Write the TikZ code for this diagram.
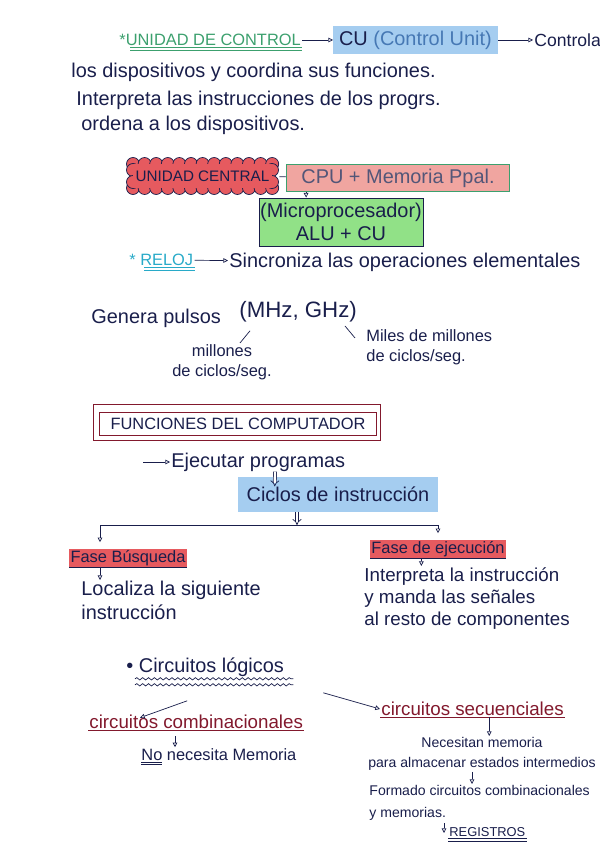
\documentclass[tikz,border=0pt]{standalone}
\usepackage{fontspec}
\setmainfont{Liberation Sans}
\usepackage{tikz}
\usepackage{xcolor}
\usetikzlibrary{arrows.meta,positioning,calc,decorations.pathmorphing}
\definecolor{notesink}{RGB}{25,30,75}
\definecolor{notesgreen}{RGB}{60,160,110}
\definecolor{notescyan}{RGB}{40,170,200}
\definecolor{notesred}{RGB}{130,25,45}
\definecolor{cublue}{RGB}{70,120,180}
\definecolor{hlblue}{RGB}{165,205,240}
\definecolor{hlred}{RGB}{230,90,95}
\definecolor{hlpink}{RGB}{240,165,160}
\definecolor{hlgreen}{RGB}{145,225,135}

\begin{document}
\begin{tikzpicture}[x=0.03cm, y=-0.03cm, >={Triangle[open,length=4pt,width=4pt]},
  every node/.style={text=notesink, inner sep=1pt},
  bodyfont/.style={font=\fontsize{17}{20}\selectfont},
  handtext/.style={anchor=west, bodyfont},
  smalltext/.style={font=\fontsize{14}{17}\selectfont},
  capstext/.style={font=\fontsize{14}{16}\selectfont},
  pen/.style={draw=notesink, line width=0.6pt},
  twin/.style={double, double distance=1.8pt, line width=0.6pt},
  markblue/.style={fill=hlblue},
  markred/.style={fill=hlred}]
\useasboundingbox (0,0) rectangle (600,848);

% unidad de control
\node[handtext, capstext, text=notesgreen] (uc) at (118,40) {*UNIDAD DE CONTROL};
\node[handtext, markblue, minimum height=0.85cm, inner xsep=5pt] (cu) at (333,40) {CU {\color{cublue}(Control Unit)}};
\node[handtext, font=\fontsize{15}{18}\selectfont] (ctrl) at (533,40) {Controla};
\draw[pen,->] (uc) -- (cu);
\draw[pen,->] (cu) -- (ctrl);
\draw[notesgreen, twin] ($(uc.south west)+(12,2)$) -- ($(uc.south east)+(0,2)$);
\node[handtext] (l1) at (70,72) {los dispositivos y coordina sus funciones.};
\node[handtext] (l2) at (75,100) {Interpreta las instrucciones de los progrs.};
\node[handtext] (l3) at (80,125) {ordena a los dispositivos.};

% unidad central (nube)
\foreach \px in {133,144.6,...,273} {
  \draw[pen, fill=hlred] (\px,164) circle (6.5);
  \draw[pen, fill=hlred] (\px,188) circle (6.5);
}
\foreach \py in {170,182} {
  \draw[pen, fill=hlred] (133,\py) circle (6.5);
  \draw[pen, fill=hlred] (272,\py) circle (6.5);
}
\fill[hlred] (133,164) rectangle (272,188);
\node[minimum width=4.6cm, minimum height=0.8cm, font=\fontsize{13}{15}\selectfont] (ucen) at (202.5,176) {UNIDAD CENTRAL};
\node[draw=notesgreen, fill=hlpink, minimum width=6.7cm, minimum height=0.8cm, bodyfont, text=notesink!75] (cpu) at (398,178) {CPU + Memoria Ppal.};
\draw[pen] (ucen) -- (cpu);
\node[draw=notesink, fill=hlgreen, minimum width=4.4cm, minimum height=1.45cm, align=center, bodyfont] (micro) at (341,222) {(Microprocesador)\\ALU + CU};
\draw[pen,->] ([xshift=0.6cm]cpu.south west) -- ([xshift=0.6cm]cpu.south west |- micro.north);

% reloj
\node[handtext, capstext, text=notescyan] (rel) at (128,260) {* RELOJ};
\node[handtext] (sinc) at (228,262) {Sincroniza las operaciones elementales};
\draw[pen,->] (rel) -- (sinc);
\draw[notescyan, twin] ($(rel.south west)+(16,2)$) -- ($(rel.south east)+(0,2)$);
\node[handtext] (gp) at (90,318) {Genera pulsos};
\node[handtext, font=\fontsize{19}{22}\selectfont] (freq) at (238,312) {(MHz, GHz)};
\node[smalltext, align=center] (mill) at (222,362) {millones\\de ciclos/seg.};
\node[handtext, smalltext, align=left] (miles) at (365,347) {Miles de millones\\de ciclos/seg.};
\draw[pen] ($(freq.south west)+(12,7)$) -- ($(mill.north)+(18,0)$);
\draw[pen] ($(miles.north west)+(-20,-2)$) -- ($(miles.north west)+(-10,10)$);

% funciones del computador
\node[draw=notesred, line width=0.8pt, minimum width=8.3cm, minimum height=0.7cm, font=\fontsize{14}{17}\selectfont] (func) at (238,424) {FUNCIONES DEL COMPUTADOR};
\draw[notesred, line width=0.8pt] ($(func.north west)+(-6,-7)$) rectangle ($(func.south east)+(4,4)$);
\node[handtext] (ej) at (170,462) {Ejecutar programas};
\coordinate (ejtail) at (143,462);
\draw[pen,->] (ejtail) -- (ej);
\node[markblue, bodyfont, minimum width=6cm, minimum height=1.05cm] (ciclo) at (338,494) {Ciclos de instrucción};
\draw[pen, double, double distance=2pt, -Implies] ($(ej.south west)+(105,-1)$) -- ($(ciclo.north west)+(37,10)$);
\coordinate (split) at (297,525);
\draw[pen, double, double distance=2pt, -Implies] (ciclo.south -| split) -- (split);
\node[markred, font=\fontsize{14}{17}\selectfont] (fb) at (128,558) {Fase Búsqueda};
\node[markred, font=\fontsize{14}{17}\selectfont] (fe) at (438,549) {Fase de ejecución};
\draw[pen,->] (split) -| ([xshift=-0.84cm, yshift=0.2cm]fb.north);
\draw[pen,->] (split) -| ([yshift=0.2cm]fe.north);
\draw[pen] (fb.south west) -- (fb.south east);
\draw[pen] (fe.south west) -- (fe.south east);
\node[handtext, align=left, anchor=north west] (loc) at (80,580) {Localiza la siguiente\\instrucción};
\draw[pen,->] ([xshift=-0.84cm]fb.south) -- ([xshift=-0.84cm]fb.south |- loc.north);
\node[handtext, font=\fontsize{16}{19}\selectfont, align=left, anchor=north west] (intp) at (363,566) {Interpreta la instrucción\\y manda las señales\\al resto de componentes};
\draw[pen,->] ([xshift=-0.5cm]fe.south) -- ([xshift=-0.5cm]fe.south |- intp.north);

% circuitos logicos
\node[handtext] (cl) at (125,667) {• Circuitos lógicos};
\draw[pen, decorate, decoration={snake, amplitude=1pt, segment length=5pt}] ($(cl.south west)+(10,1)$) -- ($(cl.south east)+(8,1)$);
\draw[pen, decorate, decoration={snake, amplitude=1pt, segment length=5pt}] ($(cl.south west)+(10,7)$) -- ($(cl.south east)+(8,7)$);
\node[handtext, font=\fontsize{16}{19}\selectfont, text=notesred] (comb) at (88,722) {circuitos combinacionales};
\draw[notesred, line width=0.6pt] (comb.south west) -- (comb.south east);
\draw[pen,->] ($(cl.south)+(-18,23)$) -- ($(comb.north west)+(52,4)$);
\node[handtext, smalltext] (nomem) at (140,757) {\underline{\underline{No}} necesita Memoria};
\draw[pen,->] ($(comb.south west)+(87,6)$) -- ($(nomem.north west)+(35,0)$);
\node[handtext, font=\fontsize{16}{19}\selectfont, text=notesred] (sec) at (380,709) {circuitos secuenciales};
\draw[notesred, line width=0.6pt] (sec.south west) -- (sec.south east);
\draw[pen,->] ($(cl.south east)+(38,15)$) -- (sec.west);
\node[font=\fontsize{12}{17}\selectfont, align=center, anchor=north] (nec) at (482,736) {Necesitan memoria\\para almacenar estados intermedios};
\draw[pen,->] ([xshift=0.5cm]sec.south) -- ([xshift=0.5cm]sec.south |- nec.north);
\node[font=\fontsize{12}{19}\selectfont, align=left, anchor=north west] (form) at (368,784) {Formado circuitos combinacionales\\y memorias.};
\draw[pen,->] ([xshift=-0.3cm]nec.south) -- ([xshift=-0.3cm]nec.south |- form.north);
\node[font=\fontsize{11}{13}\selectfont, anchor=west] (reg) at (448,832) {REGISTROS};
\draw[pen, twin] ($(reg.south west)+(0,2)$) -- ($(reg.south east)+(0,2)$);
\draw[pen,->] ($(reg.west)+(-4,-9)$) -- ($(reg.west)+(-4,1)$);
\end{tikzpicture}
\end{document}
